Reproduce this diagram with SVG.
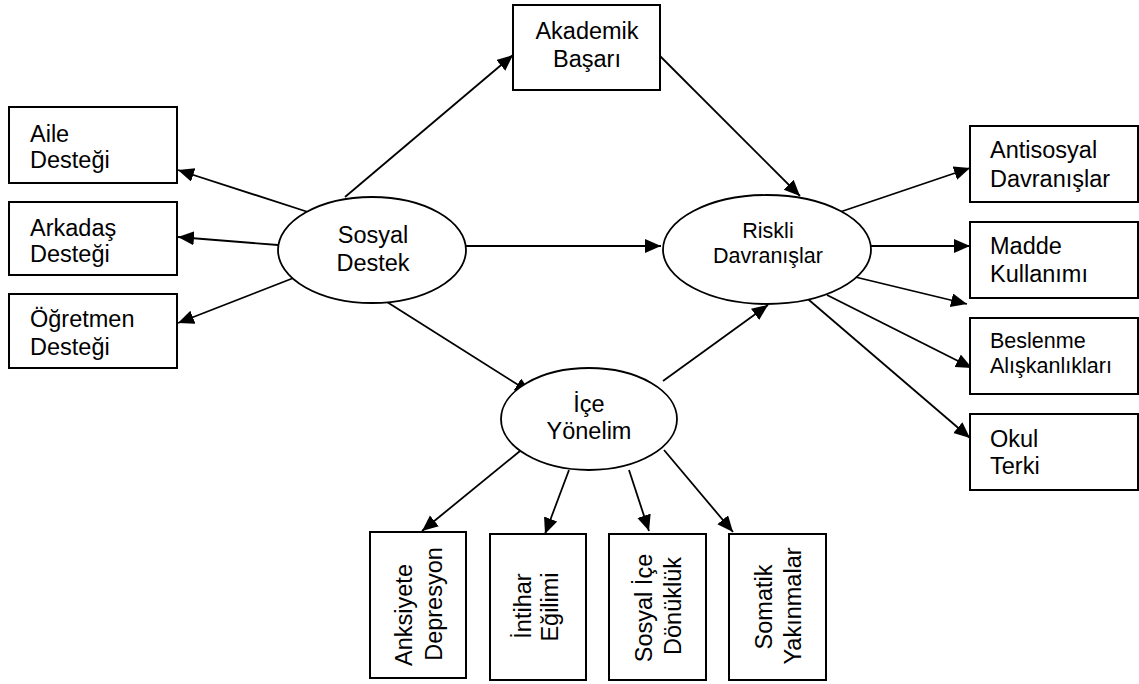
<svg xmlns="http://www.w3.org/2000/svg" width="1139" height="684" viewBox="0 0 1139 684">
<defs>
<style>
.box{fill:#fff;stroke:#000;stroke-width:2}
.ell{fill:#fff;stroke:#000;stroke-width:1.8}
.t{font-family:"Liberation Sans",Arial,sans-serif;font-size:23.5px;fill:#000}
.s{font-size:21.5px}
.c{text-anchor:middle}
.edge{stroke:#000;stroke-width:1.8;fill:none;marker-end:url(#arr)}
</style>
<marker id="arr" markerUnits="userSpaceOnUse" markerWidth="18" markerHeight="16" refX="16" refY="7" orient="auto">
<path d="M0,0 L16,7 L0,14 z" fill="#000"/>
</marker>
</defs>
<rect width="1139" height="684" fill="#fff"/>

<g id="connectors">
<line class="edge" x1="308" y1="212" x2="178" y2="170"/>
<line class="edge" x1="278" y1="245" x2="178" y2="237"/>
<line class="edge" x1="296" y1="277" x2="178" y2="323"/>
<line class="edge" x1="345" y1="197" x2="513" y2="55"/>
<line class="edge" x1="466" y1="246" x2="661" y2="246"/>
<line class="edge" x1="387" y1="302" x2="531" y2="393"/>
<line class="edge" x1="658" y1="54" x2="800" y2="196"/>
<line class="edge" x1="663" y1="381" x2="768" y2="305"/>
<line class="edge" x1="840" y1="212" x2="970" y2="168"/>
<line class="edge" x1="871" y1="246" x2="970" y2="246"/>
<line class="edge" x1="851" y1="276" x2="967" y2="304"/>
<line class="edge" x1="827" y1="295" x2="972" y2="368"/>
<line class="edge" x1="802" y1="294" x2="970" y2="438"/>
<line class="edge" x1="520" y1="451" x2="422" y2="531"/>
<line class="edge" x1="569" y1="470" x2="545" y2="534"/>
<line class="edge" x1="629" y1="470" x2="649" y2="531"/>
<line class="edge" x1="664" y1="450" x2="733" y2="532"/>
</g>

<g id="akademik">
<rect class="box" x="513" y="5" width="147" height="85"/>
<text class="t c" x="587" y="39">Akademik</text>
<text class="t c" x="587" y="67">Başarı</text>
</g>

<g id="aile">
<rect class="box" x="9" y="107" width="168" height="76"/>
<text class="t" x="30" y="142">Aile</text>
<text class="t" x="30" y="168">Desteği</text>
</g>

<g id="arkadas">
<rect class="box" x="9" y="202" width="168" height="73"/>
<text class="t" x="30" y="236">Arkadaş</text>
<text class="t" x="30" y="262">Desteği</text>
</g>

<g id="ogretmen">
<rect class="box" x="9" y="294" width="168" height="74"/>
<text class="t" x="30" y="327">Öğretmen</text>
<text class="t" x="30" y="355">Desteği</text>
</g>

<g id="sosyal-destek">
<ellipse class="ell" cx="372" cy="250" rx="94" ry="53"/>
<text class="t c" x="373" y="243">Sosyal</text>
<text class="t c" x="373" y="271">Destek</text>
</g>

<g id="riskli">
<ellipse class="ell" cx="767" cy="249.5" rx="104" ry="54.5"/>
<text class="t s c" x="768" y="238">Riskli</text>
<text class="t s c" x="768" y="263">Davranışlar</text>
</g>

<g id="ice-yonelim">
<ellipse class="ell" cx="589" cy="419" rx="88" ry="51"/>
<text class="t c" x="589" y="412">İçe</text>
<text class="t c" x="589" y="439">Yönelim</text>
</g>

<g id="antisosyal">
<rect class="box" x="970" y="126" width="168" height="76"/>
<text class="t" x="990" y="158">Antisosyal</text>
<text class="t" x="990" y="187">Davranışlar</text>
</g>

<g id="madde">
<rect class="box" x="970" y="222" width="168" height="76"/>
<text class="t" x="990" y="254">Madde</text>
<text class="t" x="990" y="282">Kullanımı</text>
</g>

<g id="beslenme">
<rect class="box" x="970" y="318" width="168" height="76"/>
<text class="t s" x="990" y="348">Beslenme</text>
<text class="t s" x="990" y="373">Alışkanlıkları</text>
</g>

<g id="okul">
<rect class="box" x="970" y="414" width="168" height="76"/>
<text class="t" x="990" y="447">Okul</text>
<text class="t" x="990" y="474">Terki</text>
</g>

<g id="anksiyete">
<rect class="box" x="370" y="532" width="96" height="146"/>
<text class="t c" transform="translate(412,615) rotate(-90)">Anksiyete</text>
<text class="t c" transform="translate(442,604) rotate(-90)">Depresyon</text>
</g>

<g id="intihar">
<rect class="box" x="490" y="534" width="96" height="146"/>
<text class="t c" transform="translate(531,606) rotate(-90)">İntihar</text>
<text class="t c" transform="translate(558,607) rotate(-90)">Eğilimi</text>
</g>

<g id="sosyal-ice">
<rect class="box" x="609" y="534" width="97" height="146"/>
<text class="t c" transform="translate(652,608) rotate(-90)">Sosyal İçe</text>
<text class="t c" transform="translate(681,606) rotate(-90)">Dönüklük</text>
</g>

<g id="somatik">
<rect class="box" x="729" y="534" width="97" height="146"/>
<text class="t c" transform="translate(772,607) rotate(-90)">Somatik</text>
<text class="t c" transform="translate(801,606) rotate(-90)">Yakınmalar</text>
</g>
</svg>
